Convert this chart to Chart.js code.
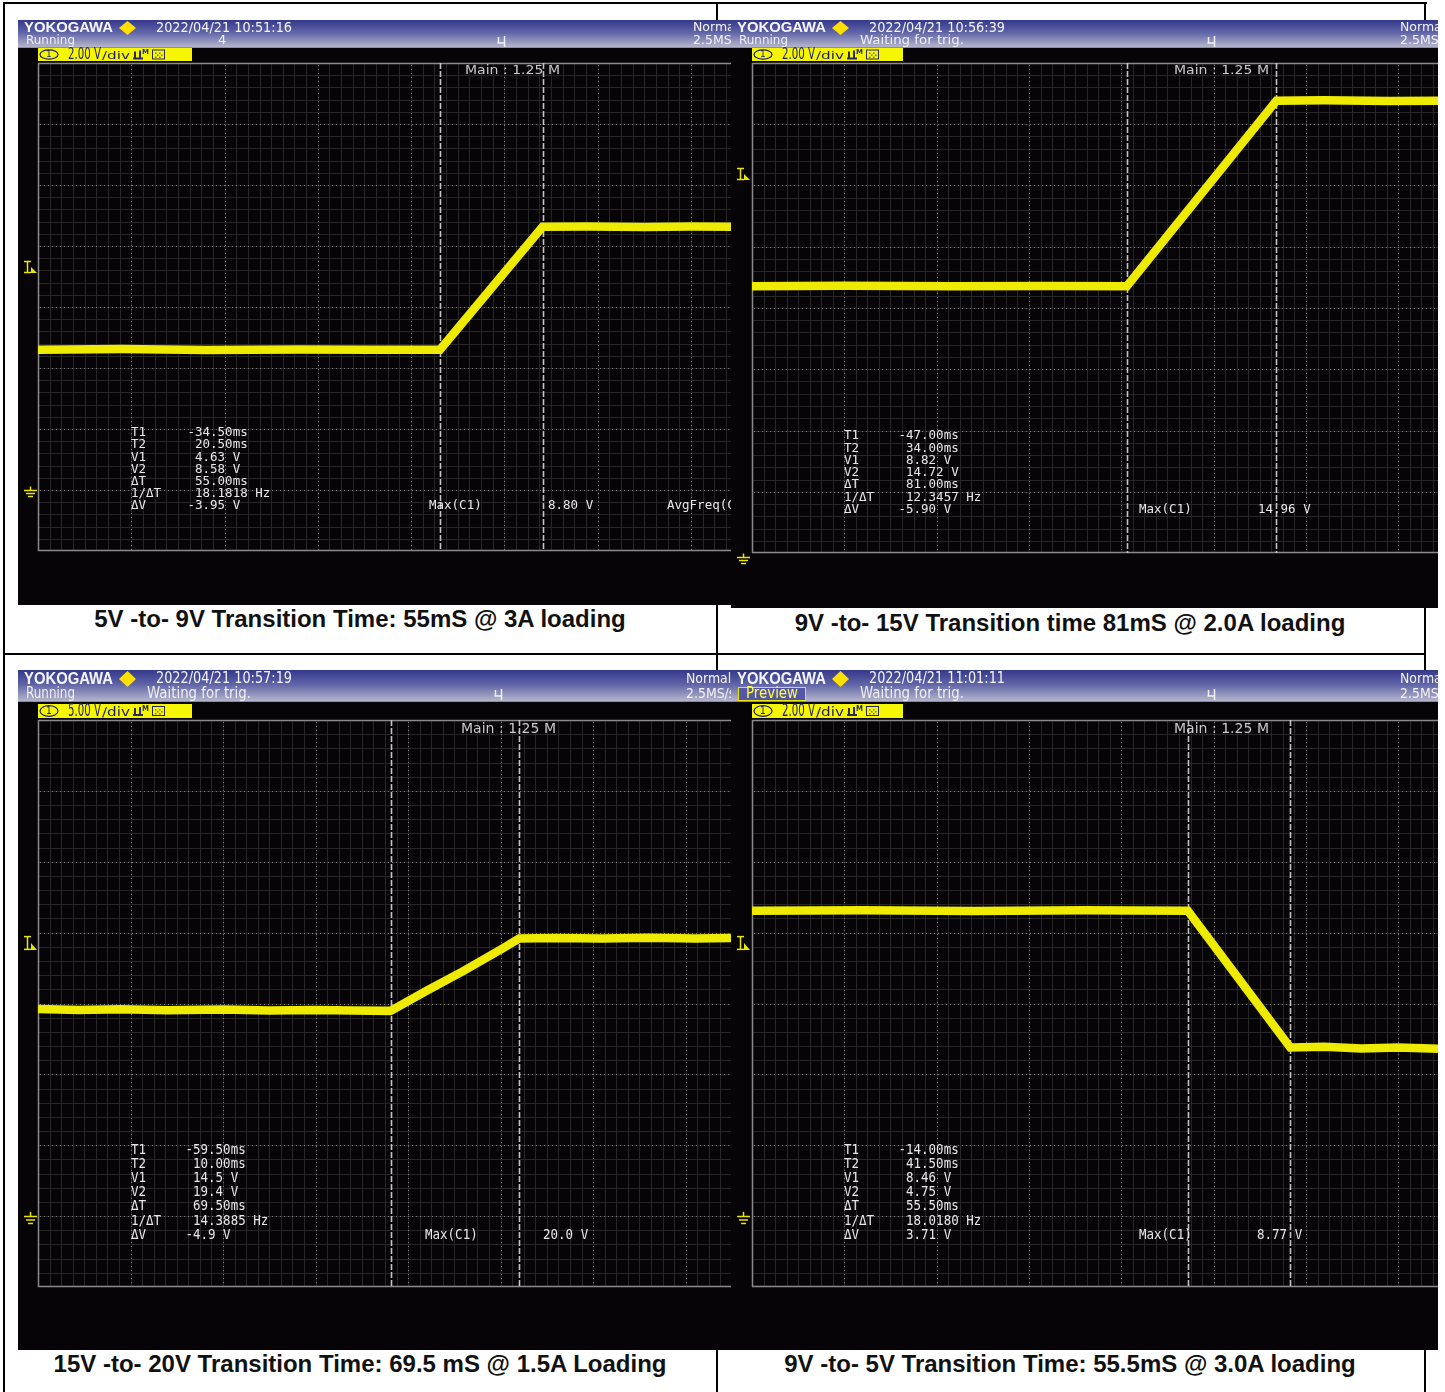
<!DOCTYPE html>
<html>
<head>
<meta charset="utf-8">
<title>USB PD voltage transition waveforms</title>
<script src="https://cdn.jsdelivr.net/npm/chart.js@4.4.1/dist/chart.umd.min.js"></script>
<style>
  html, body { margin: 0; padding: 0; background: #fff; }
  #page { position: relative; width: 1445px; height: 1392px; overflow: hidden; background: #fff; }
  .rule { position: absolute; background: #000; z-index: 0; }
  .scope { position: absolute; z-index: 1; display: block; }
  .caption { position: absolute; z-index: 2; white-space: nowrap; color: #111;
             font: bold 24px 'Liberation Sans', Arial, sans-serif; transform: translate(-50%, -50%); }
</style>
</head>
<body>
<div id="page">
  <div class="rule" style="left:3px;top:2px;width:1424px;height:2px"></div>
  <div class="rule" style="left:3px;top:2px;width:2px;height:1390px"></div>
  <div class="rule" style="left:716px;top:2px;width:2px;height:1390px"></div>
  <div class="rule" style="left:1424px;top:2px;width:2px;height:1390px"></div>
  <div class="rule" style="left:3px;top:653px;width:1423px;height:2px"></div>

  <canvas id="scopeA" class="scope"></canvas>
  <canvas id="scopeB" class="scope"></canvas>
  <canvas id="scopeC" class="scope"></canvas>
  <canvas id="scopeD" class="scope"></canvas>

  <div class="caption" style="left:360px;top:619px">5V -to- 9V Transition Time: 55mS @ 3A loading</div>
  <div class="caption" style="left:1070px;top:623px">9V -to- 15V Transition time 81mS @ 2.0A loading</div>
  <div class="caption" style="left:360px;top:1364px">15V -to- 20V Transition Time: 69.5 mS @ 1.5A Loading</div>
  <div class="caption" style="left:1070px;top:1364px">9V -to- 5V Transition Time: 55.5mS @ 3.0A loading</div>
</div>

<script>
// ---- cursor readout row names ----
const readoutNames = ['T1', 'T2', 'V1', 'V2', 'ΔT', '1/ΔT', 'ΔV'];

// ---- 5 V -> 9 V, 3 A load (time in ms, CH1 in volts) ----
const aTime      = [-250, -205, -160, -110, -70, -34.5, 20.5, 45, 75, 100, 121.5];
const aVolts     = [4.60, 4.62, 4.59, 4.61, 4.60, 4.60, 8.63, 8.64, 8.62, 8.64, 8.63];
const aCursors   = [-34.5, 20.5];
const aReadout   = ['-34.50ms', '20.50ms', '4.63 V', '8.58 V', '55.00ms', '18.1818 Hz', '-3.95 V'];
const aMax       = '8.80 V';
const aVoltsDiv  = 2;
const aVoltRange = [-2, 14];
const aTimeRange = [-250, 121.5];
const aTrigLevel = 7.3;

// ---- 9 V -> 15 V, 2.0 A load ----
const bTime      = [-250, -200, -140, -90, -47, 34, 60, 95, 121.5];
const bVolts     = [8.84, 8.86, 8.84, 8.85, 8.84, 14.90, 14.91, 14.89, 14.90];
const bCursors   = [-47, 34];
const bReadout   = ['-47.00ms', '34.00ms', '8.82 V', '14.72 V', '81.00ms', '12.3457 Hz', '-5.90 V'];
const bMax       = '14.96 V';
const bVoltsDiv  = 2;
const bVoltRange = [0.13, 16.13];
const bTimeRange = [-250, 121.5];
const bTrigLevel = 12.5;

// ---- 15 V -> 20 V, 1.5 A load ----
const cTime      = [-250, -228, -205, -180, -150, -125, -100, -80, -59.5, -40, -20, 0, 10, 30, 55, 80, 105, 124.5];
const cVolts     = [14.62, 14.55, 14.60, 14.52, 14.57, 14.50, 14.55, 14.50, 14.48, 15.90, 17.30, 18.80, 19.58, 19.62, 19.58, 19.63, 19.58, 19.62];
const cCursors   = [-59.5, 10];
const cReadout   = ['-59.50ms', '10.00ms', '14.5 V', '19.4 V', '69.50ms', '14.3885 Hz', '-4.9 V'];
const cMax       = '20.0 V';
const cVoltsDiv  = 5;
const cVoltRange = [-5, 35];
const cTimeRange = [-250, 124.5];
const cTrigLevel = 19.3;

// ---- 9 V -> 5 V, 3.0 A load ----
const dTime      = [-250, -190, -130, -70, -14, 41.5, 60, 80, 100, 121.5];
const dVolts     = [8.62, 8.63, 8.61, 8.63, 8.62, 4.76, 4.78, 4.73, 4.76, 4.72];
const dCursors   = [-14, 41.5];
const dReadout   = ['-14.00ms', '41.50ms', '8.46 V', '4.75 V', '55.50ms', '18.0180 Hz', '3.71 V'];
const dMax       = '8.77 V';
const dVoltsDiv  = 2;
const dVoltRange = [-2, 14];
const dTimeRange = [-250, 121.5];
const dTrigLevel = 7.7;

// ---- screen geometry of each capture ----
const TOP = { headH: 27, row1: 8, row2: 21, tagY: 28, tagH: 13, sy: 1 };
const BOTTOM = { headH: 31, row1: 9, row2: 24, tagY: 34, tagH: 14, sy: 1.16 };

const scopes = [
  { id: 'scopeA', frame: TOP, x: 18, y: 20, w: 713, h: 585, pad: { left: 20, top: 43, right: 0, bottom: 54 },
    date: '2022/04/21 10:51:16', status: 'Running', middle: '4', middleX: 200, normX: 675, preview: false,
    tagX: 20, tagW: 154, mainX: 447, mainY: 51, readY: 413, readStep: 12.2, valX: 177, maxX: 411, maxValX: 530,
    extra: 'AvgFreq(C1)', extraX: 649,
    time: aTime, volts: aVolts, cursors: aCursors, readout: aReadout, max: aMax,
    vdiv: aVoltsDiv, vrange: aVoltRange, trange: aTimeRange, trig: aTrigLevel },
  { id: 'scopeB', frame: TOP, x: 731, y: 20, w: 707, h: 588, pad: { left: 21, top: 43, right: 0, bottom: 55 },
    date: '2022/04/21 10:56:39', status: 'Running', middle: 'Waiting for trig.', middleX: 129, normX: 669, preview: false,
    tagX: 21, tagW: 151, mainX: 443, mainY: 51, readY: 416, readStep: 12.3, valX: 175, maxX: 408, maxValX: 527,
    time: bTime, volts: bVolts, cursors: bCursors, readout: bReadout, max: bMax,
    vdiv: bVoltsDiv, vrange: bVoltRange, trange: bTimeRange, trig: bTrigLevel },
  { id: 'scopeC', frame: BOTTOM, x: 18, y: 670, w: 713, h: 680, pad: { left: 20, top: 50, right: 0, bottom: 63 },
    date: '2022/04/21 10:57:19', status: 'Running', middle: 'Waiting for trig.', middleX: 129, normX: 668, preview: false,
    tagX: 20, tagW: 154, mainX: 443, mainY: 59, readY: 480, readStep: 14.17, valX: 175, maxX: 407, maxValX: 525,
    time: cTime, volts: cVolts, cursors: cCursors, readout: cReadout, max: cMax,
    vdiv: cVoltsDiv, vrange: cVoltRange, trange: cTimeRange, trig: cTrigLevel },
  { id: 'scopeD', frame: BOTTOM, x: 731, y: 670, w: 707, h: 680, pad: { left: 21, top: 50, right: 0, bottom: 63 },
    date: '2022/04/21 11:01:11', status: null, middle: 'Waiting for trig.', middleX: 129, normX: 669, preview: true,
    tagX: 21, tagW: 151, mainX: 443, mainY: 59, readY: 480, readStep: 14.17, valX: 175, maxX: 408, maxValX: 526,
    time: dTime, volts: dVolts, cursors: dCursors, readout: dReadout, max: dMax,
    vdiv: dVoltsDiv, vrange: dVoltRange, trange: dTimeRange, trig: dTrigLevel }
];

const SCREEN_BG = '#070407';
const TRACE = '#ffff00';
const TRACE_EDGE = '#eeea00';
const TAG_YELLOW = '#f6f600';
const MARK_YELLOW = '#e8e800';
const MONO = "'DejaVu Sans Mono', 'Liberation Mono', monospace";
const SANS = "'DejaVu Sans', 'Liberation Sans', sans-serif";

function put(ctx, s, x, y, font, color, opt) {
  opt = opt || {};
  ctx.save();
  ctx.font = font;
  ctx.fillStyle = color;
  ctx.textBaseline = 'middle';
  ctx.textAlign = 'left';
  const sx = opt.w ? opt.w / ctx.measureText(s).width : 1;
  ctx.translate(x, y);
  ctx.scale(sx, opt.sy || 1);
  ctx.fillText(s, 0, 0);
  ctx.restore();
}

function line(ctx, x1, y1, x2, y2) {
  ctx.beginPath(); ctx.moveTo(x1, y1); ctx.lineTo(x2, y2); ctx.stroke();
}

// header bar, channel tag and screen background
function drawScreen(chart, s) {
  const ctx = chart.ctx, F = s.frame, W = chart.width, H = chart.height;
  ctx.save();
  ctx.fillStyle = SCREEN_BG;
  ctx.fillRect(0, 0, W, H);

  const g = ctx.createLinearGradient(0, 0, 0, F.headH);
  g.addColorStop(0, '#34388a');
  g.addColorStop(0.45, '#5e62a6');
  g.addColorStop(1, '#b4b5cc');
  ctx.fillStyle = g;
  ctx.fillRect(0, 0, W, F.headH);
  ctx.fillStyle = '#8d8ea6';
  ctx.fillRect(0, F.headH, W, 1);

  put(ctx, 'YOKOGAWA', 6, F.row1 + 0.5, "bold 14px 'Liberation Sans', Arial, sans-serif", '#f6f6ff', { w: 89, sy: F.sy });
  // logo diamond
  ctx.fillStyle = '#ffe000';
  ctx.beginPath();
  ctx.moveTo(109.5, F.row1 - 7 * F.sy); ctx.lineTo(118, F.row1); ctx.lineTo(109.5, F.row1 + 7 * F.sy); ctx.lineTo(101, F.row1);
  ctx.closePath(); ctx.fill();

  put(ctx, s.date, 138, F.row1, '13.5px ' + SANS, '#f4f4f4', { w: 136, sy: F.sy });
  if (s.status) put(ctx, s.status, 8, F.row2, '13px ' + SANS, '#f0f0f0', { w: 49, sy: F.sy });
  if (s.preview) {
    const py = F.row2 - 7;
    ctx.fillStyle = '#5656a8';
    ctx.fillRect(7, py, 68, 14);
    ctx.strokeStyle = '#e6e600'; ctx.lineWidth = 1;
    ctx.strokeRect(7.5, py + 0.5, 67, 13);
    put(ctx, 'Preview', 15, F.row2, '13px ' + SANS, '#ffff40', { w: 52, sy: F.sy });
  }
  put(ctx, s.middle, s.middleX, F.row2, '13px ' + SANS, '#f0f0f0', s.middle.length > 2 ? { w: 104, sy: F.sy } : { sy: F.sy });
  put(ctx, 'Normal', s.normX, F.row1, '12.5px ' + SANS, '#f4f4f4', { sy: F.sy });
  put(ctx, '2.5MS/s', s.normX, F.row2, '12.5px ' + SANS, '#f4f4f4', { sy: F.sy });

  // trigger position mark at t = 0
  const tx = Math.round(chart.scales.x.getPixelForValue(0)) - 2 + 0.5;
  ctx.strokeStyle = '#f2f2f2'; ctx.lineWidth = 1.5;
  line(ctx, tx - 4, F.row2 - 4, tx - 4, F.row2 + 2);
  line(ctx, tx - 5, F.row2 + 2, tx + 2, F.row2 + 2);
  line(ctx, tx + 2, F.row2 - 5, tx + 2, F.row2 + 6);

  // channel 1 tag
  const ty = F.tagY, th = F.tagH, cy = ty + th / 2, x0 = s.tagX;
  ctx.fillStyle = TAG_YELLOW;
  ctx.fillRect(x0, ty, s.tagW, th);
  ctx.strokeStyle = '#1d1d70'; ctx.lineWidth = 1.2;
  ctx.beginPath(); ctx.ellipse(x0 + 11, cy, 9, 4.6 * F.sy, 0, 0, Math.PI * 2); ctx.stroke();
  put(ctx, '1', x0 + 8, cy, '9px ' + SANS, '#1d1d70', { sy: F.sy });
  put(ctx, (s.vdiv).toFixed(2) + ' V', x0 + 30, cy + 0.5, '15px ' + SANS, '#1d1d70', { w: 33, sy: F.sy });
  put(ctx, '/div', x0 + 64, cy + 1.5, '11px ' + SANS, '#1d1d70', { w: 28, sy: F.sy });
  ctx.fillStyle = '#2a2a60';
  ctx.fillRect(x0 + 96, cy - 3, 2, 7); ctx.fillRect(x0 + 101, cy - 4, 2, 8); ctx.fillRect(x0 + 95, cy + 3, 10, 2);
  put(ctx, 'M', x0 + 104, cy - 2, 'bold 7px ' + SANS, '#2a2a60', { sy: F.sy });
  ctx.strokeStyle = '#2a2a60'; ctx.lineWidth = 1;
  ctx.strokeRect(x0 + 114.5, cy - 4.5, 12, 9);
  ctx.fillStyle = '#6a6a80';
  for (let i = 0; i < 4; i++) for (let j = 0; j < 3; j++) if ((i + j) % 2 === 0) ctx.fillRect(x0 + 117 + i * 2, cy - 2 + j * 2, 1.5, 1.5);
  ctx.restore();
}

function drawGrid(chart, s) {
  const ctx = chart.ctx, a = chart.chartArea, xs = chart.scales.x, ys = chart.scales.y;
  ctx.save();
  ctx.lineWidth = 1;
  ctx.strokeStyle = '#262626';
  const minorT = 6.25, majorT = 50, minorV = s.vdiv / 5;
  for (let k = 1; s.trange[0] + k * minorT < s.trange[1]; k++) {
    const px = Math.round(xs.getPixelForValue(s.trange[0] + k * minorT)) + 0.5;
    line(ctx, px, a.top, px, a.bottom);
  }
  for (let k = 1; k < 40; k++) {
    const v = s.vrange[0] + k * minorV;
    if (v >= s.vrange[1] - 1e-6) break;
    const py = Math.round(ys.getPixelForValue(v)) + 0.5;
    line(ctx, a.left, py, a.right, py);
  }
  // division lines, dotted
  ctx.fillStyle = '#767676';
  for (let k = 1; s.trange[0] + k * majorT < s.trange[1]; k++) {
    const px = Math.round(xs.getPixelForValue(s.trange[0] + k * majorT));
    for (let y = a.top + 2; y < a.bottom; y += 4) ctx.fillRect(px, y, 1, 1);
  }
  for (let k = 1; k < 8; k++) {
    const py = Math.round(ys.getPixelForValue(s.vrange[0] + k * s.vdiv));
    for (let x = a.left + 2; x < a.right; x += 4) ctx.fillRect(x, py, 1, 1);
  }
  // screen frame
  ctx.strokeStyle = '#8a8a8a';
  ctx.lineWidth = 1.5;
  line(ctx, a.left + 0.5, a.top, a.left + 0.5, a.bottom);
  line(ctx, a.left, a.top + 0.5, a.right, a.top + 0.5);
  line(ctx, a.left, a.bottom - 0.5, a.right, a.bottom - 0.5);

  // T1 / T2 cursors
  ctx.strokeStyle = '#c4c4c4';
  ctx.lineWidth = 1.6;
  ctx.setLineDash([6, 2]);
  s.cursors.forEach(t => {
    const px = Math.round(xs.getPixelForValue(t)) + 0.5;
    line(ctx, px, a.top, px, a.bottom);
  });
  ctx.setLineDash([]);
  ctx.restore();
}

function drawReadout(chart, s) {
  const ctx = chart.ctx, F = s.frame, ys = chart.scales.y;
  ctx.save();
  const font = '12.5px ' + MONO, col = '#e8e8e8';
  ctx.font = font;
  const dash = ctx.measureText('-').width;
  put(ctx, 'Main : 1.25 M', s.mainX, s.mainY, '12.5px ' + SANS, '#c9c9c9', { w: 95, sy: F.sy });
  readoutNames.forEach((n, i) => {
    const y = s.readY + i * s.readStep;
    put(ctx, n, 113, y, font, col, { sy: F.sy });
    const v = s.readout[i];
    put(ctx, v, v.charAt(0) === '-' ? s.valX - dash : s.valX, y, font, col, { sy: F.sy });
  });
  const my = s.readY + 6 * s.readStep;
  put(ctx, 'Max(C1)', s.maxX, my, font, col, { sy: F.sy });
  put(ctx, s.max, s.maxValX, my, font, col, { sy: F.sy });
  if (s.extra) put(ctx, s.extra, s.extraX, my, font, col, { sy: F.sy });

  // trigger level and ground markers on the left edge
  ctx.strokeStyle = MARK_YELLOW; ctx.fillStyle = MARK_YELLOW; ctx.lineWidth = 1.5;
  const ly = Math.round(ys.getPixelForValue(s.trig));
  const hy = 5.5 * F.sy;
  line(ctx, 6, ly - hy, 13, ly - hy);
  line(ctx, 9.5, ly - hy, 9.5, ly + hy);
  line(ctx, 6, ly + hy, 13, ly + hy);
  ctx.beginPath(); ctx.moveTo(13, ly + hy + 0.5); ctx.lineTo(19, ly + hy + 0.5); ctx.lineTo(13, ly); ctx.closePath(); ctx.fill();

  const gy = Math.round(ys.getPixelForValue(0)) + 0.5;
  line(ctx, 12.5, gy - 4 * F.sy, 12.5, gy);
  line(ctx, 6, gy, 19, gy);
  line(ctx, 8, gy + 3 * F.sy, 17, gy + 3 * F.sy);
  line(ctx, 10, gy + 6 * F.sy, 15, gy + 6 * F.sy);
  ctx.restore();
}

const screenPlugin = {
  id: 'scopeScreen',
  beforeDraw(chart, args, opts) { drawScreen(chart, opts.spec); },
  beforeDatasetsDraw(chart, args, opts) { drawGrid(chart, opts.spec); drawReadout(chart, opts.spec); }
};

scopes.forEach(s => {
  const cv = document.getElementById(s.id);
  cv.width = s.w; cv.height = s.h;
  cv.style.left = s.x + 'px'; cv.style.top = s.y + 'px';
  cv.style.width = s.w + 'px'; cv.style.height = s.h + 'px';

  const pts = s.time.map((t, i) => ({ x: t, y: s.volts[i] }));
  new Chart(cv, {
    type: 'line',
    data: {
      datasets: [
        { data: pts, borderColor: TRACE_EDGE, borderWidth: 8.5, pointRadius: 0, tension: 0, clip: 0, borderJoinStyle: 'miter' },
        { data: pts, borderColor: TRACE, borderWidth: 6, pointRadius: 0, tension: 0, clip: 0, borderJoinStyle: 'miter' }
      ]
    },
    options: {
      responsive: false,
      animation: false,
      devicePixelRatio: 1,
      layout: { padding: s.pad },
      events: [],
      scales: {
        x: { type: 'linear', min: s.trange[0], max: s.trange[1], display: false },
        y: { type: 'linear', min: s.vrange[0], max: s.vrange[1], display: false }
      },
      plugins: {
        legend: { display: false },
        tooltip: { enabled: false },
        scopeScreen: { spec: s }
      }
    },
    plugins: [screenPlugin]
  });
});
</script>
</body>
</html>
